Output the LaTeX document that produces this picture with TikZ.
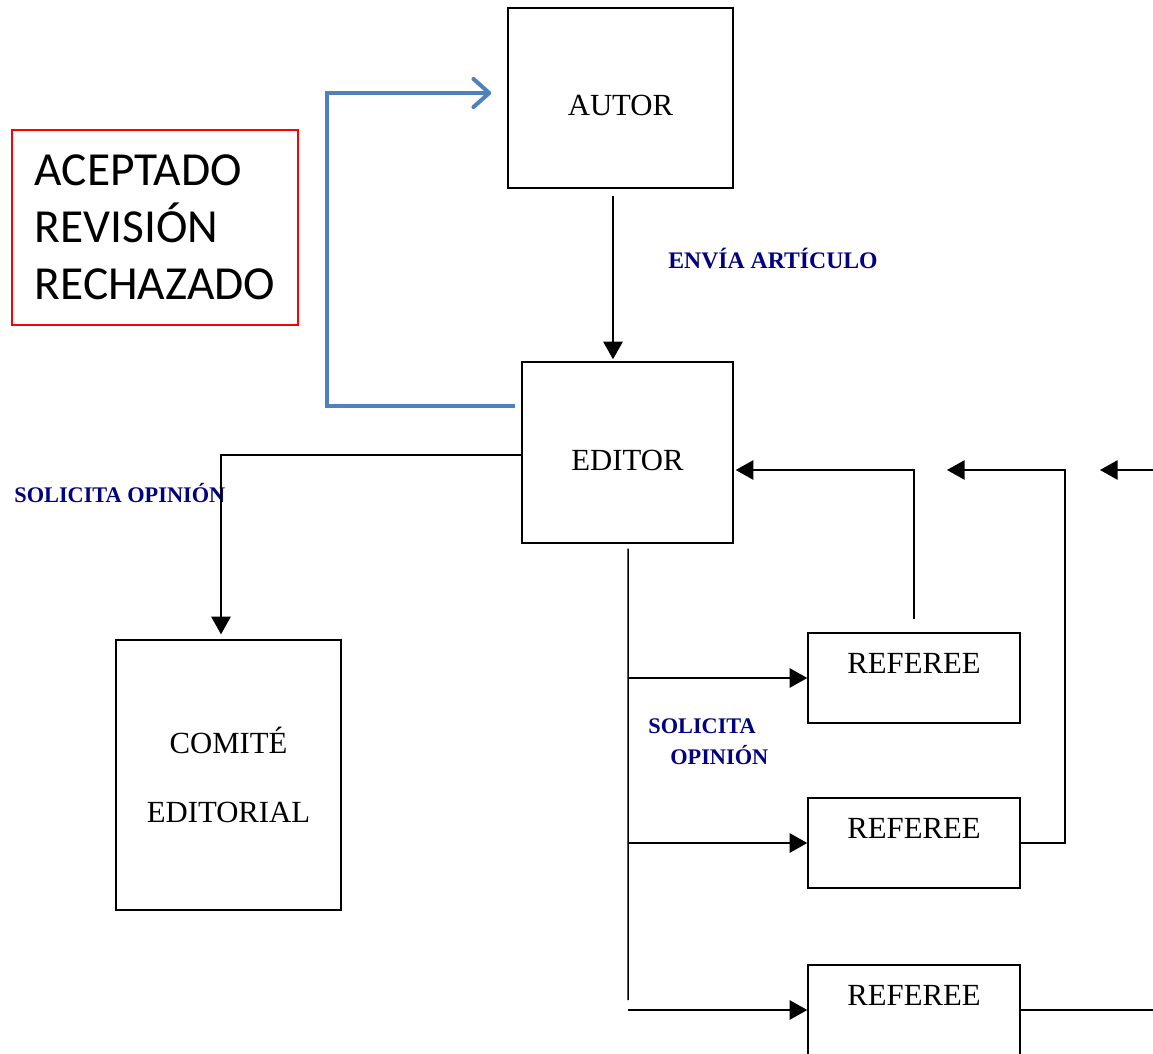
\documentclass[tikz,border=0pt]{standalone}
\usepackage{fontspec}
\setmainfont{Liberation Serif}
\newfontfamily\calibri{Carlito}
\usetikzlibrary{arrows.meta}
\definecolor{navytext}{RGB}{0,0,128}
\definecolor{steelblue}{RGB}{79,129,189}

\tikzset{
  box/.style={draw, line width=0.85pt, inner sep=0pt, font=\fontsize{17.5}{21}\selectfont},
  referee/.style={box, minimum width=4.24cm, text height=0.8cm, text depth=1.0cm},
  note/.style={text=navytext, inner sep=0pt, font=\fontsize{13.5}{17.6}\selectfont\bfseries},
  small note/.style={note, font=\fontsize{12.7}{17.6}\selectfont\bfseries},
  wire/.style={line width=0.85pt},
  link/.style={wire, -{Triangle[length=10pt,width=11pt]}},
  decision/.style={line width=2.3pt, steelblue, -{Straight Barb[length=9pt,width=16pt,round]}}
}

\begin{document}
\begin{tikzpicture}[x=0.02cm, y=-0.02cm]
\useasboundingbox (0,0) rectangle (1153,1054);

% cajas
\node[box, minimum width=4.5cm, text height=2.16cm, text depth=1.44cm] (autor) at (620.5,98) {AUTOR};
\node[box, minimum width=4.22cm, text height=2.18cm, text depth=1.44cm] (editor) at (627.5,452.5) {EDITOR};
\node[box, minimum width=4.5cm, minimum height=5.4cm, align=center] (comite) at (228.5,775) {COMITÉ\\[18pt]EDITORIAL};
\node[referee] (ref1) at (914,678) {REFEREE};
\node[referee] (ref2) at (914,843) {REFEREE};
\node[referee] (ref3) at (914,1010) {REFEREE};
\node[draw=red, line width=0.85pt, minimum width=5.72cm, minimum height=3.9cm, align=left,
  font=\calibri\fontsize{27}{32.5}\selectfont] (estado) at (155,227.5) {ACEPTADO\\REVISIÓN\\RECHAZADO};

% etiquetas
\node[note, anchor=base west] (envia) at (668,269) {ENVÍA ARTÍCULO};
\node[small note, anchor=base west] (pide) at (14,502) {SOLICITA OPINIÓN};
\node[small note, anchor=north west, align=left] (pide2) at (648,718) {SOLICITA\\\hspace*{12.5pt}OPINIÓN};

\coordinate (turn) at (327,93);
\coordinate (trunk) at (628,1000);
\coordinate (back2) at (1065,470);
\coordinate (tip2) at (947,470);
\coordinate (edge3) at (1153,1010);
\coordinate (edgein) at (1153,470);
\coordinate (tip3) at (1100,470);

% conexiones
\draw[link] ([shift={(-7.5,7)}]autor.south) -- ([shift={(-14.5,-2)}]editor.north);
\draw[decision] ([shift={(-6,-46.5)}]editor.west) -| (turn) -- ([shift={(-16,-5)}]autor.west);
\draw[link] ([shift={(0,2.5)}]editor.west) -| ([shift={(-7.5,-5)}]comite.north);
\draw[wire] ([shift={(0.5,5)}]editor.south) -- (trunk);
\foreach \r in {ref1,ref2,ref3}
  \draw[link] (editor.south |- \r.west) -- (\r.west);
\draw[link] ([shift={(0,-13)}]ref1.north) |- ([shift={(2,17.5)}]editor.east);
\draw[link] (ref2.east) -| (back2) -- (tip2);
\draw[wire] (ref3.east) -- (edge3);
\draw[link] (edgein) -- (tip3);
\end{tikzpicture}
\end{document}
